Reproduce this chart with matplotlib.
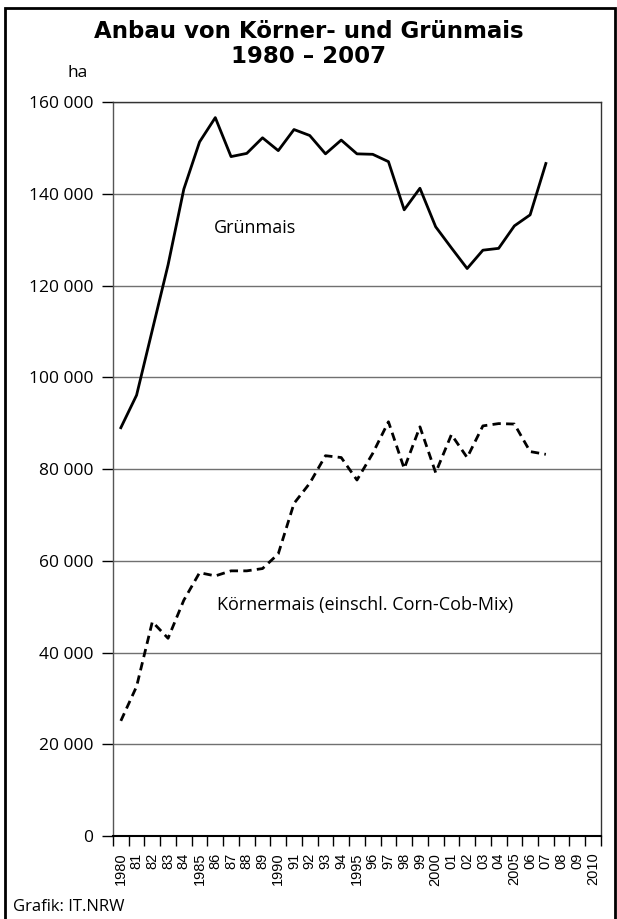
import matplotlib.pyplot as plt
from matplotlib.patches import Rectangle

# Daten
jahre = list(range(1980, 2008))
gruenmais = [89000, 96100, 110300, 124500, 141000, 151300, 156600, 148100, 148800, 152200,
             149400, 154000, 152700, 148700, 151700, 148700, 148600, 147000, 136500, 141200,
             132800, 128200, 123700, 127700, 128100, 133000, 135400, 146600]
koernermais = [25100, 32600, 46700, 43100, 51400, 57400, 56700, 57800, 57800, 58300,
               61500, 72500, 76900, 82900, 82500, 77600, 83400, 90300, 80100, 89200,
               79200, 87500, 82500, 89400, 89900, 89800, 83800, 83200]
x_jahre = list(range(1980, 2011))
x_labels = [str(j) if j % 5 == 0 else '%02d' % (j % 100) for j in x_jahre]
y_ticks = list(range(0, 160001, 20000))
y_labels = ['0' if v == 0 else '{:,}'.format(v).replace(',', ' ') for v in y_ticks]

plt.rcParams['font.family'] = ['Open Sans', 'DejaVu Sans']

fig = plt.figure(figsize=(6.17, 9.19), dpi=100)
ax = fig.add_axes([0.1831, 0.0903, 0.7909, 0.7987])

ax.plot(jahre, gruenmais, color='black', linewidth=2.0)
l2, = ax.plot(jahre, koernermais, color='black', linewidth=2.0, linestyle='--')
l2.set_dashes([3, 1.9])

ax.set_xlim(1979.5, 2010.5)
ax.set_ylim(0, 160000)
ax.set_yticks(y_ticks)
ax.set_yticklabels(y_labels, fontsize=12.5)
# Striche an den Kategoriegrenzen, Beschriftung in der Mitte
ax.set_xticks([j - 0.5 for j in x_jahre] + [2010.5])
ax.set_xticklabels([])
ax.set_xticks(x_jahre, minor=True)
ax.set_xticklabels(x_labels, minor=True, rotation=90, fontsize=10.5, family='Liberation Sans')
ax.tick_params(axis='x', which='minor', length=0, pad=12)
ax.tick_params(axis='y', length=8, width=1, pad=6, color='black')
ax.tick_params(axis='x', which='major', length=7, width=1, color='black')

ax.grid(axis='y', color='#707070', linewidth=1)
ax.set_axisbelow(True)
for s in ax.spines.values():
    s.set_color('#333333')
    s.set_linewidth(1)
ax.spines['left'].set_color('#555555')
ax.spines['bottom'].set_linewidth(1.5)
ax.spines['bottom'].set_color('black')

ax.text(1985.9, 132500, 'Grünmais', fontsize=13, va='center')
ax.text(1986.1, 50400, 'Körnermais (einschl. Corn-Cob-Mix)', fontsize=13, va='center')

fig.text(0.5, 0.966, 'Anbau von Körner- und Grünmais', ha='center', va='center',
         fontsize=16.5, fontweight='bold', family='DejaVu Sans')
fig.text(0.5, 0.939, '1980 \u2013 2007', ha='center', va='center',
         fontsize=16.5, fontweight='bold', family='DejaVu Sans')
fig.text(0.143, 0.921, 'ha', ha='right', va='center', fontsize=12.5)
fig.text(0.021, 0.013, 'Grafik: IT.NRW', ha='left', va='center', fontsize=12)

fig.patches.append(Rectangle((5 / 617, -0.05), 610 / 617, 1.05 - 8 / 919,
                             transform=fig.transFigure, fill=False,
                             edgecolor='black', linewidth=2))

fig.savefig('out.png', dpi=100)
